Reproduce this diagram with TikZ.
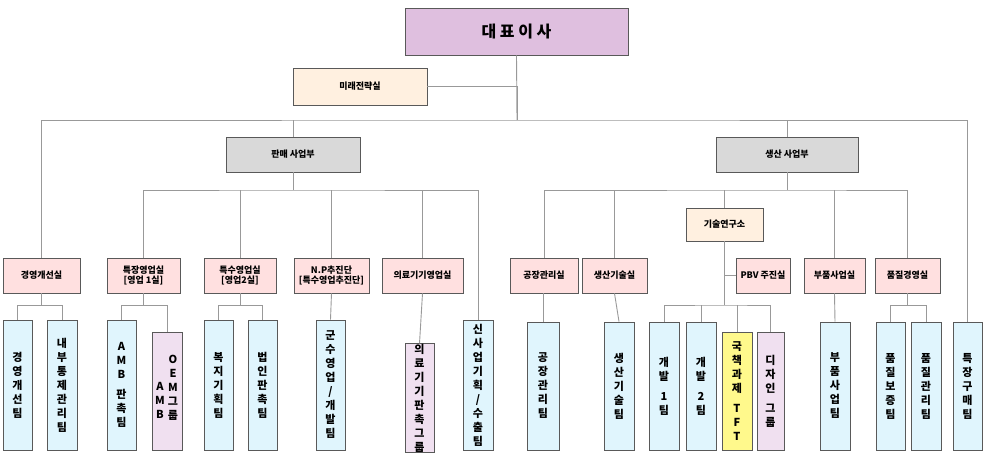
\documentclass[tikz,border=0pt]{standalone}
\usepackage{fontspec}
\setmainfont{Noto Sans CJK KR}
\tikzset{
  base/.style={draw=black!65, line width=0.8pt, inner sep=0pt, align=center, font=\bfseries\fontsize{9}{10}\selectfont},
  ceobox/.style={base, fill=violet!25!white, font=\bfseries\fontsize{16}{18}\selectfont},
  peach/.style={base, fill=orange!12!white},
  graybox/.style={base, fill=black!15},
  pinkbox/.style={base, fill=red!12!white},
  team/.style={base, fill=cyan!12!white, font=\bfseries\fontsize{11}{14}\selectfont},
  lav/.style={team, fill=violet!12!white},
  yel/.style={team, fill=yellow!45!white},
  ln/.style={draw=black!40, line width=0.9pt}
}
\newcommand{\bx}[7]{\node[#6, minimum width={(#4-#2)*1pt}, minimum height={(#5-#3)*1pt}] (#1) at ({(#2+#4)/2},{(#3+#5)/2}) {#7};}
\begin{document}
\begin{tikzpicture}[x=1pt,y=-1pt]
\useasboundingbox (0,0) rectangle (986,455);
% top
\bx{ceo}{405}{8}{628}{55}{ceobox}{대\ 표\ 이\ 사}
\bx{mirae}{293}{68}{427}{105}{peach}{미래전략실}
\bx{sales}{226}{137}{360}{172}{graybox}{판매 사업부}
\bx{prod}{716}{137}{858}{172}{graybox}{생산 사업부}
% row 2
\bx{r1}{3}{258}{80}{293}{pinkbox}{경영개선실}
\bx{r2}{107}{258}{180}{293}{pinkbox}{특장영업실\\{[}영업 1실{]}}
\bx{r3}{204}{258}{276}{293}{pinkbox}{특수영업실\\{[}영업2실{]}}
\bx{r4}{294}{258}{369}{293}{pinkbox}{N.P추진단\\{[}특수영업추진단{]}}
\bx{r5}{382}{258}{463}{293}{pinkbox}{의료기기영업실}
\bx{p1}{510}{258}{578}{293}{pinkbox}{공장관리실}
\bx{p2}{582}{258}{647}{293}{pinkbox}{생산기술실}
\bx{lab}{686}{208}{763}{241}{peach}{기술연구소}
\bx{pbv}{736}{258}{790}{293}{pinkbox}{PBV 주진실}
\bx{p4}{804}{258}{865}{293}{pinkbox}{부품사업실}
\bx{p5}{875}{258}{940}{293}{pinkbox}{품질경영실}
% teams
\bx{t1}{3}{320}{32}{450}{team}{경\\영\\개\\선\\팀}
\bx{t2}{47}{320}{77}{450}{team}{내\\부\\통\\제\\관\\리\\팀}
\bx{t3}{107}{320}{136}{450}{team}{A\\M\\B\\[6pt]판\\촉\\팀}
\bx{t4}{152}{332}{182}{450}{lav}{}
\node[font=\bfseries\fontsize{11}{14}\selectfont, align=center] (t4a) at (160,400) {A\\M\\B};
\node[font=\bfseries\fontsize{11}{14}\selectfont, align=center] (t4b) at (173,388) {O\\E\\M\\그\\룹};
\bx{t5}{204}{320}{233}{450}{team}{복\\지\\기\\획\\팀}
\bx{t6}{248}{320}{277}{450}{team}{법\\인\\판\\촉\\팀}
\bx{t7}{316}{320}{345}{450}{team}{군\\수\\영\\업\\/\\개\\발\\팀}
\bx{t8}{405}{346}{434}{450}{lav}{의\\료\\기\\기\\판\\촉\\그\\룹}
\bx{t9}{463}{320}{493}{450}{team}{신\\사\\업\\기\\획\\/\\수\\출\\팀}
\bx{t10}{527}{322}{559}{450}{team}{공\\장\\관\\리\\팀}
\bx{t11}{604}{322}{634}{450}{team}{생\\산\\기\\술\\팀}
\bx{t12}{649}{322}{679}{450}{team}{개\\발\\[6pt]1\\팀}
\bx{t13}{686}{322}{716}{450}{team}{개\\발\\[6pt]2\\팀}
\bx{t14}{722}{332}{752}{450}{yel}{국\\책\\과\\제\\[6pt]T\\F\\T}
\bx{t15}{757}{332}{784}{450}{lav}{디\\자\\인\\[6pt]그\\룹}
\bx{t16}{820}{322}{850}{450}{team}{부\\품\\사\\업\\팀}
\bx{t17}{876}{322}{905}{450}{team}{품\\질\\보\\증\\팀}
\bx{t18}{911}{322}{941}{450}{team}{품\\질\\관\\리\\팀}
\bx{t19}{953}{322}{982}{450}{team}{특\\장\\구\\매\\팀}
% connector coordinates
\coordinate (bus) at (517,120);
\coordinate (sbus) at (293,190);
\coordinate (pbus) at (787,190);
% connectors
\begin{scope}[on background layer/.try]
\draw[ln] (ceo.south) -- (bus);
\draw[ln] (mirae.east) -| (bus);
\draw[ln] (r1.north) |- (bus) -| (t19.north);
\draw[ln] (sales.north) -- (sales.north |- bus);
\draw[ln] (prod.north) -- (prod.north |- bus);
\draw[ln] (sales.south) -- (sbus);
\draw[ln] (r2.north) |- (sbus) -| (t9.north);
\draw[ln] (r3.north) -- (r3.north |- sbus);
\draw[ln] (r4.north) -- (r4.north |- sbus);
\draw[ln] (r5.north) -- (r5.north |- sbus);
\draw[ln] (prod.south) -- (pbus);
\draw[ln] (p1.north) |- (pbus) -| (p5.north);
\draw[ln] (p2.north) -- (p2.north |- pbus);
\draw[ln] (lab.north) -- (lab.north |- pbus);
\draw[ln] (p4.north) -- (p4.north |- pbus);
% team links
\draw[ln] (r1.south) -- ++(0,12) coordinate (j1);
\draw[ln] (t1.north) |- (j1) -| (t2.north);
\draw[ln] (r2.south) -- ++(0,12) coordinate (j2);
\draw[ln] (t3.north) |- (j2) -| (t4.north);
\draw[ln] (r3.south) -- ++(0,12) coordinate (j3);
\draw[ln] (t5.north) |- (j3) -| (t6.north);
\draw[ln] (r4.south) -- (t7.north);
\draw[ln] (r5.south) -- (t8.north);
\draw[ln] (p1.south) -- (p1.south -| t10.north) -- (t10.north);
\draw[ln] (p2.south) -- (t11.north);
\draw[ln] (lab.south) -- (lab.south |- 0,305) coordinate (j4);
\draw[ln] (pbv.west) -- (pbv.west -| lab.south);
\draw[ln] (t12.north) |- (j4) -| (t15.north);
\draw[ln] (t13.north) -- (t13.north |- j4);
\draw[ln] (t14.north) -- (t14.north |- j4);
\draw[ln] (p4.south) -- (t16.north);
\draw[ln] (p5.south) -- ++(0,12) coordinate (j5);
\draw[ln] (t17.north) |- (j5) -| (t18.north);
\end{scope}
\end{tikzpicture}
\end{document}
